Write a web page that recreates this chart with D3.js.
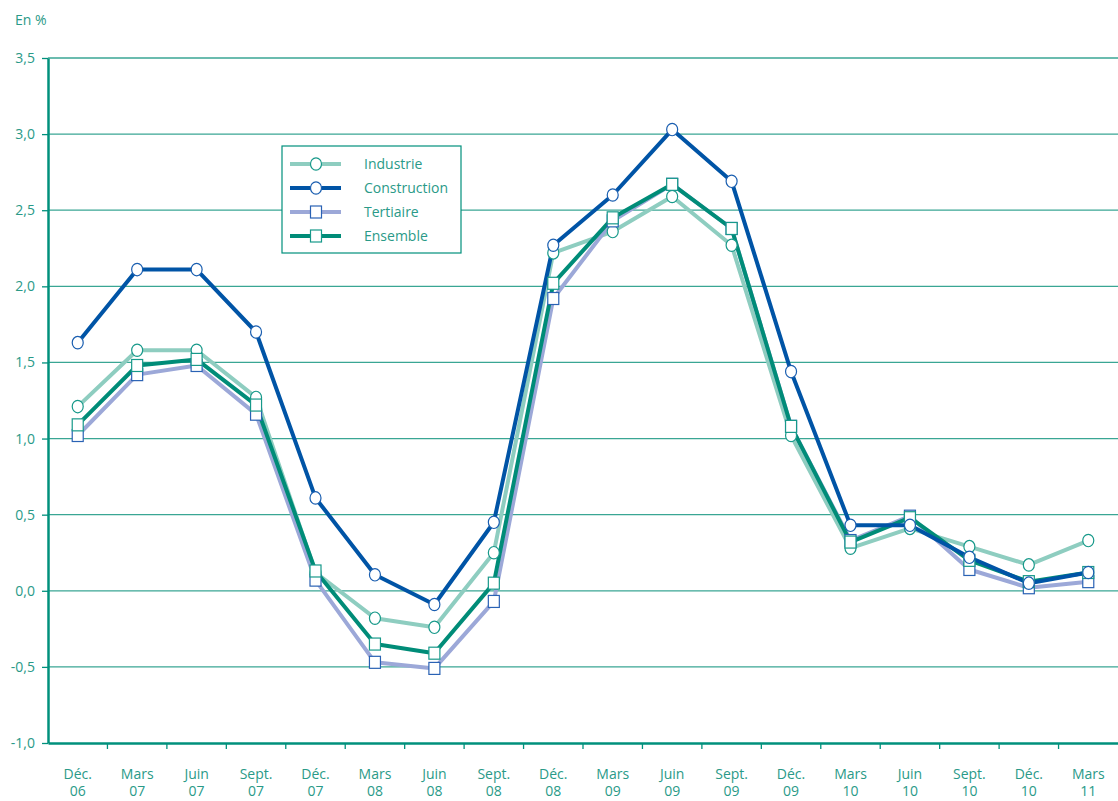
<!DOCTYPE html>
<meta charset="utf-8">
<style>
body { margin: 0; background: #fff; }
svg text { font-family: "Open Sans", sans-serif; fill: #2a9a88; }
.grid line { stroke: #3aa694; stroke-width: 1.3; }
.line { fill: none; stroke-width: 4; stroke-linejoin: round; }
</style>
<body></body>
<script src="https://d3js.org/d3.v7.min.js"></script>
<script>
// quarters (two-line labels)
var months = ["Déc.", "Mars", "Juin", "Sept.", "Déc.", "Mars", "Juin", "Sept.", "Déc.", "Mars", "Juin", "Sept.", "Déc.", "Mars", "Juin", "Sept.", "Déc.", "Mars"];
var years = ["06", "07", "07", "07", "07", "08", "08", "08", "08", "09", "09", "09", "09", "10", "10", "10", "10", "11"];

var industrie    = [1.21, 1.58, 1.58, 1.27, 0.12, -0.18, -0.24, 0.25, 2.22, 2.36, 2.59, 2.27, 1.02, 0.28, 0.41, 0.29, 0.17, 0.33];
var construction = [1.63, 2.11, 2.11, 1.70, 0.61, 0.105, -0.09, 0.45, 2.27, 2.60, 3.03, 2.69, 1.44, 0.43, 0.43, 0.22, 0.05, 0.12];
var tertiaire    = [1.02, 1.42, 1.48, 1.16, 0.07, -0.47, -0.51, -0.07, 1.92, 2.43, 2.67, 2.38, 1.08, 0.33, 0.49, 0.14, 0.02, 0.06];
var ensemble     = [1.09, 1.48, 1.52, 1.22, 0.13, -0.35, -0.41, 0.05, 2.02, 2.45, 2.67, 2.38, 1.08, 0.32, 0.48, 0.20, 0.06, 0.12];

var yTicks = [-1, -0.5, 0, 0.5, 1, 1.5, 2, 2.5, 3, 3.5];

var series = [
  {name: "Industrie", values: industrie, color: "#8ecdc0", mark: "circle", mstroke: "#17998a"},
  {name: "Tertiaire", values: tertiaire, color: "#9ca8d8", mark: "square", mstroke: "#2a62b4"},
  {name: "Ensemble", values: ensemble, color: "#008c78", mark: "square", mstroke: "#17998a"},
  {name: "Construction", values: construction, color: "#0054a6", mark: "circle", mstroke: "#1a5eb0"}
];
var legendOrder = ["Industrie", "Construction", "Tertiaire", "Ensemble"];

var W = 1118, H = 801;
var plot = {left: 48, right: 1118, top: 58, bottom: 743};
var axisColor = "#00907c";

var idx = d3.range(months.length);
var x = d3.scaleBand().domain(idx).range([plot.left, plot.right]);
var y = d3.scaleLinear().domain([-1, 3.5]).range([plot.bottom, plot.top]);
var cx = function(i) { return x(i) + x.bandwidth() / 2; };

var svg = d3.select("body").append("svg")
    .attr("width", W)
    .attr("height", H);

svg.append("text")
    .attr("x", 15).attr("y", 25)
    .style("font-size", "14px")
    .text("En %");

// gridlines
svg.append("g").attr("class", "grid")
  .selectAll("line")
  .data(yTicks.filter(function(d) { return d > -1; }))
  .enter().append("line")
    .attr("x1", plot.left).attr("x2", plot.right)
    .attr("y1", function(d) { return y(d); })
    .attr("y2", function(d) { return y(d); });

// y axis
var yAxis = svg.append("g")
    .attr("transform", "translate(" + plot.left + ",0)")
    .call(d3.axisLeft(y).tickValues(yTicks).tickSize(6).tickSizeOuter(0).tickPadding(7)
      .tickFormat(function(d) { return d3.format(".1f")(d).replace(".", ",").replace("\u2212", "-"); }));
yAxis.select(".domain").attr("stroke", axisColor).attr("stroke-width", 2.5);
yAxis.selectAll(".tick line").attr("stroke", axisColor).attr("stroke-width", 1.3);
yAxis.selectAll("text").style("font-size", "14px").attr("fill", "#2a9a88");

// x axis
var xAxis = svg.append("g")
    .attr("transform", "translate(0," + plot.bottom + ")")
    .call(d3.axisBottom(x).tickSize(0).tickSizeOuter(0).tickFormat(""));
xAxis.select(".domain").attr("stroke", axisColor).attr("stroke-width", 2.5);
xAxis.selectAll(".tick").remove();
xAxis.selectAll(".sep")
  .data(idx.slice(1))
  .enter().append("line")
    .attr("x1", function(i) { return x(i); })
    .attr("x2", function(i) { return x(i); })
    .attr("y1", 0).attr("y2", 6)
    .attr("stroke", axisColor).attr("stroke-width", 1.3);
var lab = xAxis.selectAll(".lab")
  .data(idx)
  .enter().append("text")
    .attr("text-anchor", "middle")
    .style("font-size", "14px")
    .attr("transform", function(i) { return "translate(" + cx(i) + ",0)"; });
lab.append("tspan").attr("x", 0).attr("y", 36).text(function(i) { return months[i]; });
lab.append("tspan").attr("x", 0).attr("y", 53).text(function(i) { return years[i]; });

// lines
var line = d3.line()
    .x(function(d, i) { return cx(i); })
    .y(function(d) { return y(d); });

series.forEach(function(s) {
  svg.append("path")
      .datum(s.values)
      .attr("class", "line")
      .attr("stroke", s.color)
      .attr("d", line);
});

function drawMark(g, s, px, py) {
  if (s.mark === "circle") {
    g.append("ellipse")
        .attr("cx", px).attr("cy", py)
        .attr("rx", 5.5).attr("ry", 6.2)
        .attr("fill", "#fff")
        .attr("stroke", s.mstroke).attr("stroke-width", 1.2);
  } else {
    g.append("rect")
        .attr("x", px - 5.5).attr("y", py - 6)
        .attr("width", 11).attr("height", 12)
        .attr("fill", "#fff")
        .attr("stroke", s.mstroke).attr("stroke-width", 1.2);
  }
}

// markers
series.forEach(function(s) {
  var g = svg.append("g");
  s.values.forEach(function(v, i) { drawMark(g, s, cx(i), y(v)); });
});

// legend
var lg = svg.append("g").attr("transform", "translate(282,146)");
lg.append("rect")
    .attr("width", 179).attr("height", 107)
    .attr("fill", "#fff")
    .attr("stroke", axisColor).attr("stroke-width", 1.2);
legendOrder.forEach(function(name, k) {
  var s = series.filter(function(d) { return d.name === name; })[0];
  var ly = 18 + k * 24;
  lg.append("line")
      .attr("x1", 8).attr("x2", 59)
      .attr("y1", ly).attr("y2", ly)
      .attr("stroke", s.color).attr("stroke-width", 4);
  drawMark(lg, s, 34, ly);
  lg.append("text")
      .attr("x", 82).attr("y", ly + 5)
      .style("font-size", "14px")
      .text(name);
});
</script>
